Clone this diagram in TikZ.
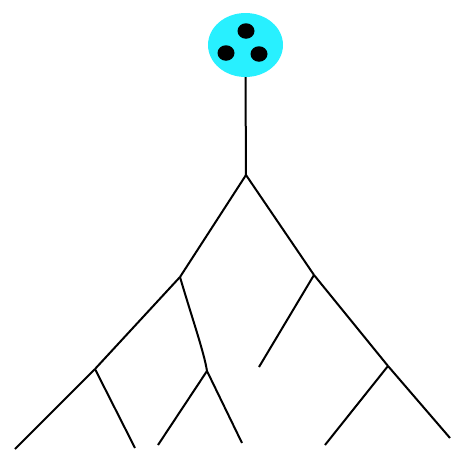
\documentclass[tikz,border=0pt]{standalone}
\usetikzlibrary{shapes.geometric}
\definecolor{podcyan}{RGB}{40,240,255}
\begin{document}
\begin{tikzpicture}[x=1pt,y=-1pt,
  branch/.style={draw=black,line width=2pt},
  dot/.style={fill=black,ellipse,inner sep=0pt,minimum width=17pt,minimum height=15.5pt},
  pod/.style={fill=podcyan,ellipse,inner sep=0pt,minimum width=75pt,minimum height=64pt}]
\useasboundingbox (0,0) rectangle (451,450);
\node[pod] (pod) at (245.5,45) {};
\node[dot] (d1) at (246,31) {};
\node[dot] (d2) at (226,53) {};
\node[dot] (d3) at (259,54) {};
\coordinate (root) at (246,175);
\coordinate (L) at (180,277);
\coordinate (R) at (314,275);
\coordinate (LL) at (95,369);
\coordinate (LM) at (207,371);
\coordinate (RR) at (388,366);
\coordinate (Rs) at (259,367);
\coordinate (e1) at (15,449);
\coordinate (e2) at (135,448);
\coordinate (e3) at (158,445);
\coordinate (e4) at (242,443);
\coordinate (e5) at (325,445);
\coordinate (e6) at (450,438);
\draw[branch] (pod.south) -- (root);
\draw[branch] (root) -- (L);
\draw[branch] (root) -- (R);
\draw[branch] (L) -- (LL);
\draw[branch] (L) .. controls (192,318) and (204,352) .. (LM);
\draw[branch] (LL) -- (e1);
\draw[branch] (LL) -- (e2);
\draw[branch] (LM) -- (e3);
\draw[branch] (LM) -- (e4);
\draw[branch] (R) -- (Rs);
\draw[branch] (R) -- (RR);
\draw[branch] (RR) -- (e5);
\draw[branch] (RR) -- (e6);
\end{tikzpicture}
\end{document}
